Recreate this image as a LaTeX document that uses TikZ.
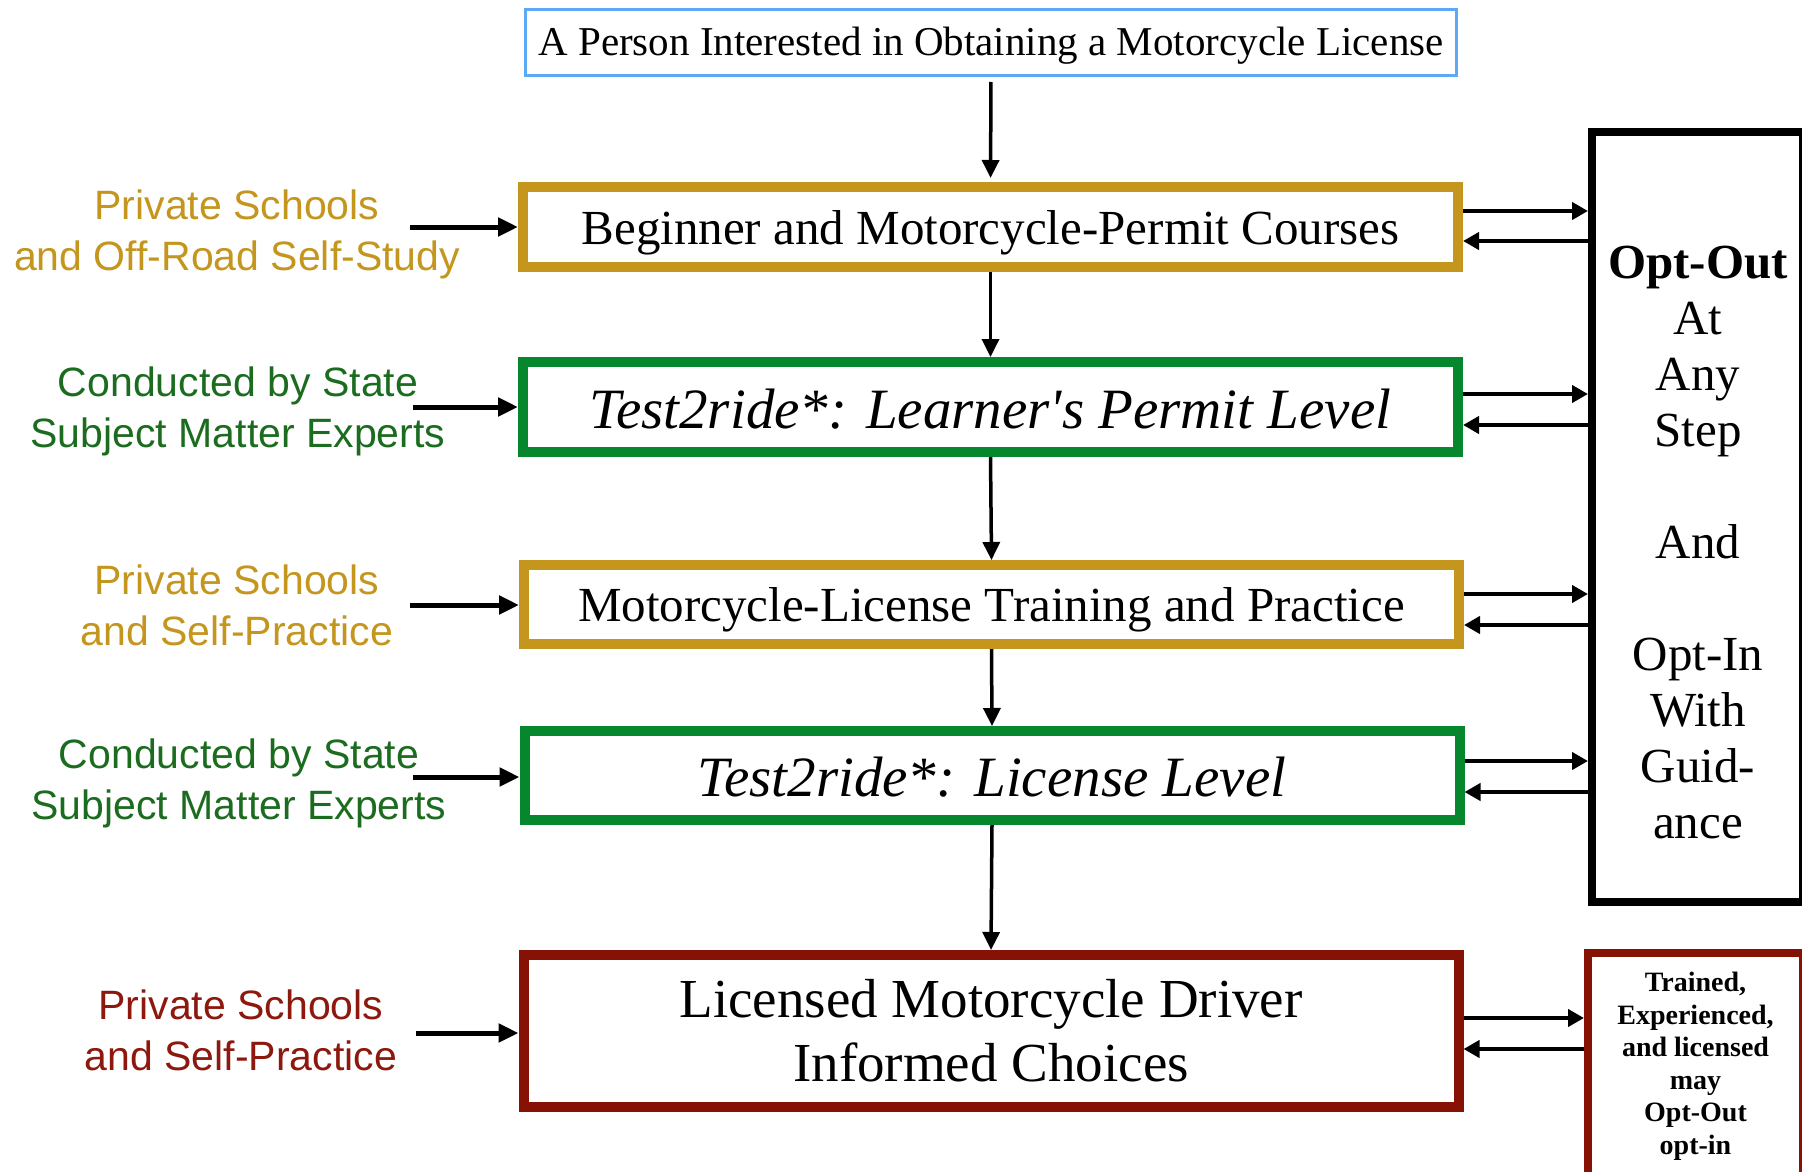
\documentclass[tikz,border=0pt]{standalone}
\usepackage{fontspec}
\setmainfont{Liberation Serif}[Ligatures=TeXOff]
\newfontfamily\labelfont{Liberation Sans}
\usetikzlibrary{arrows.meta}
\definecolor{cblue}{RGB}{92,170,245}
\definecolor{cgold}{RGB}{196,150,30}
\definecolor{cgreen}{RGB}{6,135,46}
\definecolor{cred}{RGB}{134,18,6}
\definecolor{lgreen}{RGB}{28,108,32}
\definecolor{lred}{RGB}{140,24,14}
\newcommand{\lowertext}[2]{\raisebox{0pt}[\dimexpr\height+#1\relax][\depth]{#2}}
\begin{document}
\begin{tikzpicture}[x=1pt,y=-1pt,
  stagebox/.style={draw, line width=10pt, minimum width=935pt, inner sep=0pt, align=center},
  sidelabel/.style={align=center, inner sep=0pt, font=\labelfont\fontsize{41}{51}\selectfont},
  sidearrow/.style={line width=5pt, -{Triangle[length=20pt,width=18pt]}},
  downarrow/.style={line width=3.5pt, -{Triangle[length=18pt,width=17pt]}},
  optarrow/.style={line width=4pt, -{Triangle[length=16pt,width=17pt]}}
]
\useasboundingbox (0,0) rectangle (1802,1172);
\fill[white] (0,0) rectangle (1802,1172);

% main column
\node[draw=cblue, line width=3pt, minimum width=931pt, minimum height=66pt, inner sep=0pt,
      font=\fontsize{41}{48}\selectfont] (top) at (991,42.5)
  {\lowertext{7pt}{A Person Interested in Obtaining a Motorcycle License}};
\node[stagebox, draw=cgold, minimum height=80pt, font=\fontsize{49}{56}\selectfont] (b1) at (990.5,227)
  {\lowertext{12pt}{Beginner and Motorcycle-Permit Courses}};
\node[stagebox, draw=cgreen, minimum height=90pt, font=\itshape\fontsize{57}{64}\selectfont] (b2) at (990.5,407)
  {\lowertext{4pt}{Test2ride*: Learner's Permit Level}};
\node[stagebox, draw=cgold, minimum height=79pt, font=\fontsize{49}{56}\selectfont] (b3) at (991.5,604.5)
  {\lowertext{11pt}{Motorcycle-License Training and Practice}};
\node[stagebox, draw=cgreen, minimum height=89pt, font=\itshape\fontsize{57}{64}\selectfont] (b4) at (992,775.5)
  {\lowertext{4pt}{Test2ride*: License Level}};
\node[stagebox, draw=cred, minimum height=152pt, font=\fontsize{55}{64}\selectfont] (b5) at (991,1031)
  {Licensed Motorcycle Driver\\Informed Choices};

% right boxes
\node[draw=black, line width=8pt, minimum width=211pt, minimum height=770pt, inner sep=0pt] (opt) at (1697.5,517) {};
\node[align=center, inner sep=0pt, font=\fontsize{49}{56}\selectfont] (opttext) at (1698,543)
  {\textbf{Opt-Out}\\At\\Any\\Step\\[56pt]And\\[56pt]Opt-In\\With\\Guid-\\ance};
\node[draw=cred, line width=8pt, minimum width=215pt, minimum height=227pt, inner sep=0pt, align=center,
      font=\bfseries\fontsize{28}{32.5}\selectfont] (trained) at (1695.5,1066.5)
  {Trained,\\Experienced,\\and licensed\\may\\Opt-Out\\opt-in};

% left labels
\node[sidelabel, text=cgold] (l1) at (237,234) {Private Schools\\and Off-Road Self-Study};
\node[sidelabel, text=lgreen] (l2) at (238,411) {Conducted by State\\Subject Matter Experts};
\node[sidelabel, text=cgold] (l3) at (237,605) {Private Schools\\and Self-Practice};
\node[sidelabel, text=lgreen] (l4) at (239,783) {Conducted by State\\Subject Matter Experts};
\node[sidelabel, text=lred] (l5) at (241,1030) {Private Schools\\and Self-Practice};

\coordinate (s1) at (410,227);
\coordinate (s2) at (413,407);
\coordinate (s3) at (410,605);
\coordinate (s4) at (413,777);
\coordinate (s5) at (416,1033);
\draw[sidearrow] (s1) -- (s1 -| b1.west);
\draw[sidearrow] (s2) -- (s2 -| b2.west);
\draw[sidearrow] (s3) -- (s3 -| b3.west);
\draw[sidearrow] (s4) -- (s4 -| b4.west);
\draw[sidearrow] (s5) -- (s5 -| b5.west);

% vertical flow
\draw[downarrow, shorten <=5pt, shorten >=4pt] (top.south) -- (b1.north);
\draw[downarrow] (b1.south) -- (b2.north);
\draw[downarrow] (b2.south) -- (b3.north);
\draw[downarrow] (b3.south) -- (b4.north);
\draw[downarrow] (b4.south) -- (b5.north);

% opt-out / opt-in arrows
\foreach \b/\ya/\yb in {b1/211/241, b2/394/425, b3/594/625, b4/761/792}{
  \coordinate (ra) at (0,\ya);
  \coordinate (rb) at (0,\yb);
  \draw[optarrow] (ra -| \b.east) -- (ra -| opt.west);
  \draw[optarrow] (rb -| opt.west) -- (rb -| \b.east);
}
\coordinate (ta) at (0,1018);
\coordinate (tb) at (0,1049);
\draw[optarrow] (ta -| b5.east) -- (ta -| trained.west);
\draw[optarrow] (tb -| trained.west) -- (tb -| b5.east);
\end{tikzpicture}
\end{document}
